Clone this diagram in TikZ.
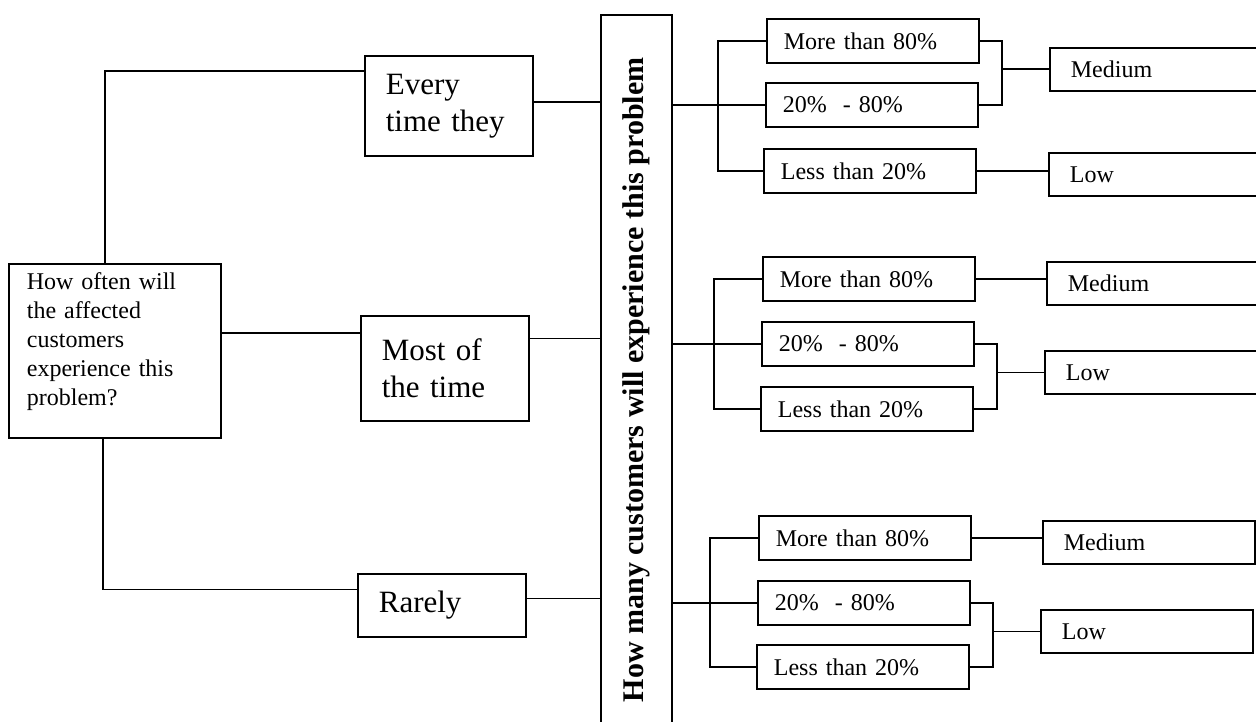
\documentclass[tikz,border=0pt]{standalone}
\usepackage{fontspec}
\usepackage{graphicx}
\setmainfont{Liberation Serif}
\begin{document}
\begin{tikzpicture}[x=1pt, y=-1pt, line width=1.7pt,
  qbox/.style={draw, anchor=north west, align=left, text width=176pt,
    inner xsep=18pt, inner ysep=9pt, font=\fontsize{24}{29}\selectfont},
  bigbox/.style={draw, anchor=north west, align=left, text width=126pt,
    inner xsep=21pt, inner ysep=0pt, font=\fontsize{31}{37}\selectfont},
  pbox/.style={draw, anchor=north west, align=left, text width=178pt,
    inner xsep=17pt, inner ysep=0pt, minimum height=44pt,
    font=\fontsize{24}{29}\selectfont},
  rbox/.style={draw, anchor=north west, align=left, text width=170pt,
    inner xsep=21pt, inner ysep=0pt, minimum height=43pt,
    font=\fontsize{24}{29}\selectfont},
  vbox/.style={draw, anchor=north west, minimum width=71pt,
    minimum height=730pt, inner sep=0pt,
    font=\bfseries\fontsize{30}{36}\selectfont}]
\useasboundingbox (0,0) rectangle (1256,722);

% question and frequency answers
\node[qbox, text depth=139pt] (q) at (8,263)
  {How often will\\the affected\\customers\\experience this\\problem?};
\node[bigbox, minimum height=100pt] (every) at (364,55) {Every\\time they};
\node[bigbox, minimum height=105pt] (most) at (360,315) {Most of\\the time};
\node[bigbox, minimum height=63pt] (rarely) at (357,573) {Rarely};

% second question, written upwards
\node[vbox] (vb) at (600,14)
  {\rotatebox{90}{How many customers will experience this problem}};

% share of customers
\node[pbox] (g1a) at (766,18) {More than 80\%};
\node[pbox] (g1b) at (765,82) {20\%~~- 80\%};
\node[pbox] (g1c) at (763,148) {Less than 20\%};
\node[pbox] (g2a) at (762,256) {More than 80\%};
\node[pbox] (g2b) at (761,321) {20\%~~- 80\%};
\node[pbox] (g2c) at (760,386) {Less than 20\%};
\node[pbox] (g3a) at (758,515) {More than 80\%};
\node[pbox] (g3b) at (757,580) {20\%~~- 80\%};
\node[pbox] (g3c) at (756,644) {Less than 20\%};

% resulting ratings
\node[rbox] (med1) at (1049,47) {Medium};
\node[rbox] (low1) at (1048,152) {Low};
\node[rbox] (med2) at (1046,261) {Medium};
\node[rbox] (low2) at (1044,350) {Low};
\node[rbox] (med3) at (1042,520) {Medium};
\node[rbox] (low3) at (1040,609) {Low};

% tree from the first question
\draw ([xshift=-10pt]q.north) |- ([yshift=35pt]every.west);
\draw ([yshift=18pt]q.east) -- ([yshift=18pt]q.east -| most.west);
\draw ([xshift=-12pt]q.south) |- ([yshift=16pt]rarely.west);

\draw ([yshift=4pt]every.east) -- ([yshift=4pt]every.east -| vb.west);
\draw ([yshift=30pt]most.east) -- ([yshift=30pt]most.east -| vb.west);
\draw ([yshift=7pt]rarely.east) -- ([yshift=7pt]rarely.east -| vb.west);

% branches to the shares
\draw (vb.east |- g1b.west) -- (g1b.west);
\draw (g1a.west) -| ([xshift=-47pt]g1b.west) |- (g1c.west);
\draw (vb.east |- g2b.west) -- (g2b.west);
\draw (g2a.west) -| ([xshift=-47pt]g2b.west) |- (g2c.west);
\draw (vb.east |- g3b.west) -- (g3b.west);
\draw (g3a.west) -| ([xshift=-47pt]g3b.west) |- (g3c.west);

% shares to ratings
\draw (g1a.east) -| ([xshift=-47pt]med1.west) |- (g1b.east);
\draw ([xshift=-47pt]med1.west) -- (med1.west);
\draw (g1c.east) -- (g1c.east -| low1.west);

\draw (g2a.east) -- (g2a.east -| med2.west);
\draw (g2b.east) -| ([xshift=-47pt]low2.west) |- (g2c.east);
\draw ([xshift=-47pt]low2.west) -- (low2.west);

\draw (g3a.east) -- (g3a.east -| med3.west);
\draw (g3b.east) -| ([xshift=-47pt]low3.west) |- (g3c.east);
\draw ([xshift=-47pt]low3.west) -- (low3.west);
\end{tikzpicture}
\end{document}
